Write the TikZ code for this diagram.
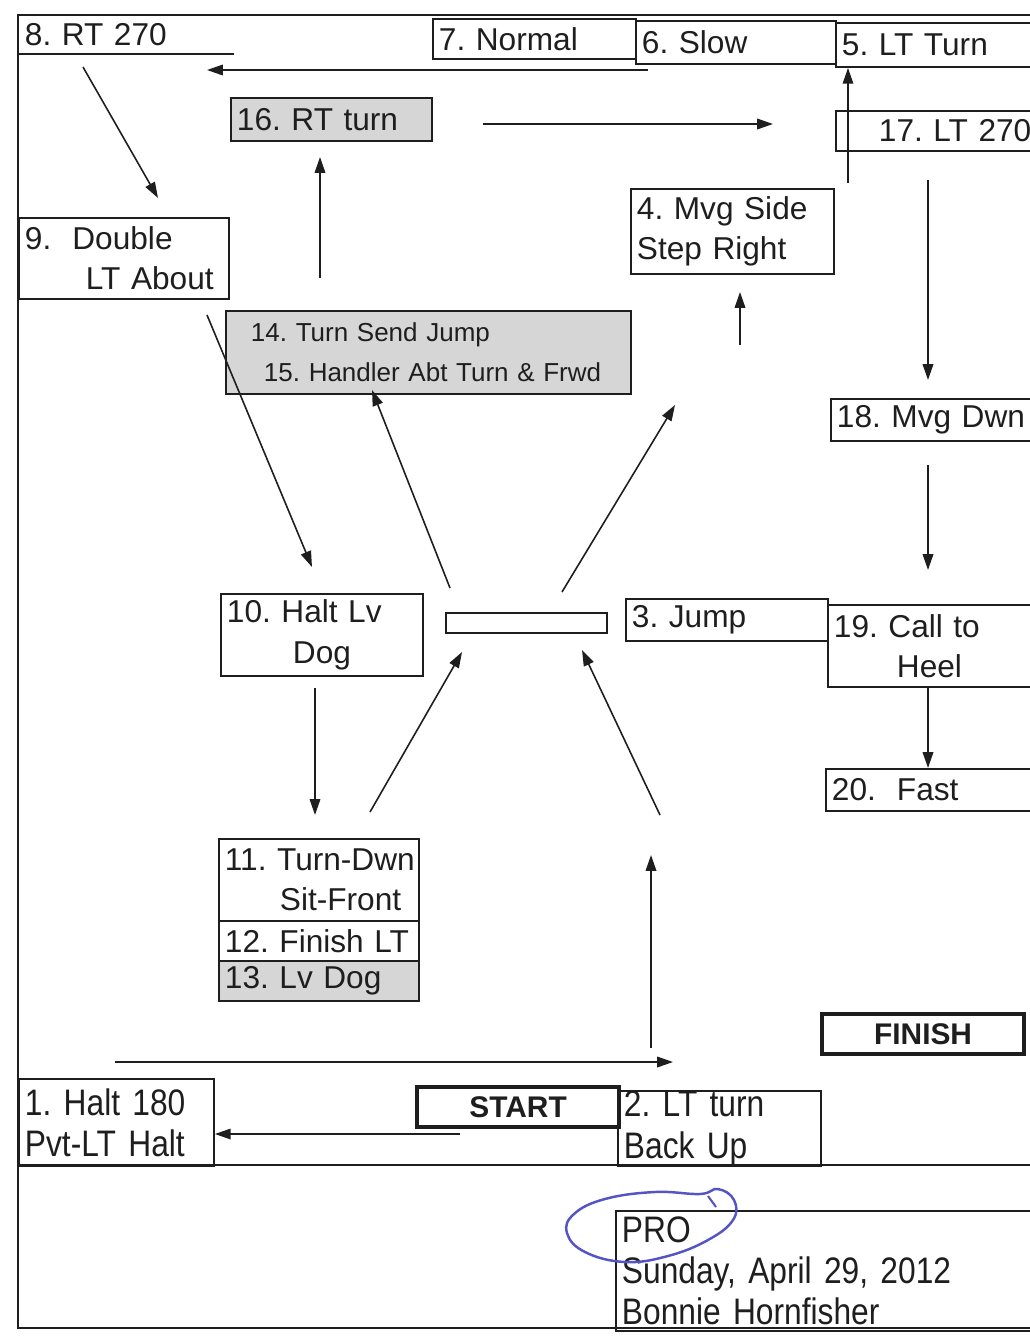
\documentclass[tikz,border=0pt]{standalone}
\usepackage{fontspec}
\setmainfont{Liberation Sans}
\newfontfamily\narrowfont[FakeStretch=0.86]{Liberation Sans}
\usetikzlibrary{arrows.meta}
\definecolor{cellgray}{RGB}{214,214,214}
\definecolor{penblue}{RGB}{84,84,196}
\definecolor{ink}{RGB}{30,30,30}

\begin{document}
\frenchspacing
\begin{tikzpicture}[
    x=0.02cm, y=-0.02cm, ink,
    cell/.style={draw, line width=1.1pt, anchor=north west, align=left, inner xsep=0.12cm, inner ysep=0pt,
      font=\fontsize{18}{23}\selectfont},
    shaded/.style={cell, fill=cellgray},
    heavy/.style={cell, line width=2.4pt, align=center, font=\fontsize{17}{20}\selectfont\bfseries},
    narrow/.style={cell, font=\fontsize{21}{23.5}\selectfont\narrowfont},
    arr/.style={-{Triangle[length=9pt,width=6pt]}, line width=0.9pt},
  ]
  \useasboundingbox (0,0) rectangle (1029,1336);
  % outer frame
  \draw[line width=1.1pt] (18,15) rectangle (1040,1328);
  \draw[line width=1.1pt] (18,1165) -- (1040,1165);

  % top row
  \node[cell, draw=none, text width=4.04cm, minimum height=0.74cm] (s8) at (18,15) {\mbox{8. RT 270}};
  \draw[line width=1.1pt] (s8.south west) -- (s8.south east);
  \node[cell, text width=3.82cm, minimum height=0.80cm] (s7) at (432,18) {7. Normal};
  \node[cell, text width=3.76cm, minimum height=0.86cm] (s6) at (635,20) {6. Slow};
  \node[cell, text width=3.86cm, minimum height=0.88cm] (s5) at (835,22) {5. LT Turn};

  \node[shaded, text width=3.78cm, minimum height=0.86cm] (s16) at (230,97) {16. RT turn};
  \node[cell, text width=3.86cm, minimum height=0.80cm] (s17) at (835,110) {\mbox{\hspace*{0.74cm}17. LT 270}};
  \node[cell, text width=3.82cm, minimum height=1.70cm] (s4) at (630,188) {\mbox{4. Mvg Side}\\\mbox{Step Right}};
  \node[cell, text width=3.96cm, minimum height=1.62cm] (s9) at (18,217) {9.\ \ Double\\\mbox{\hspace*{1.22cm}LT About}};
  \node[shaded, text width=7.86cm, minimum height=1.66cm, font=\fontsize{14.8}{23}\selectfont] (s14) at (225,310)
    {\mbox{\hspace*{0.38cm}14. Turn Send Jump}\\\mbox{\hspace*{0.64cm}15. Handler Abt Turn \& Frwd}};
  \node[cell, text width=3.96cm, minimum height=0.84cm] (s18) at (830,398) {\mbox{18. Mvg Dwn}};

  % middle
  \node[cell, text width=3.80cm, minimum height=1.64cm] (s10) at (220,593) {\mbox{10. Halt Lv}\\\hspace*{1.32cm}Dog};
  \node[cell, minimum width=3.22cm, minimum height=0.40cm] (bar) at (445,612) {};
  \node[cell, text width=3.80cm, minimum height=0.84cm] (s3) at (625,598) {3. Jump};
  \node[cell, text width=4.02cm, minimum height=1.64cm] (s19) at (827,604) {\mbox{19. Call to}\\\hspace*{1.26cm}Heel};
  \node[cell, text width=4.06cm, minimum height=0.84cm] (s20) at (825,768) {20.\ \ Fast};

  \node[cell, text width=3.76cm, minimum height=1.64cm] (s11) at (218,838) {\mbox{11. Turn-Dwn}\\\mbox{\hspace*{1.1cm}Sit-Front}};
  \node[cell, text width=3.76cm, minimum height=0.80cm] (s12) at (218,920) {\mbox{12. Finish LT}};
  \node[shaded, text width=3.76cm, minimum height=0.80cm] (s13) at (218,960) {13. Lv Dog};

  % bottom
  \node[heavy, minimum width=4.04cm, minimum height=0.80cm] (finish) at (820,1012) {FINISH};
  \node[narrow, text width=3.66cm, minimum height=1.74cm] (s1) at (18,1078) {\mbox{1. Halt 180}\\\mbox{Pvt-LT Halt}};
  \node[heavy, minimum width=4.04cm, minimum height=0.80cm] (start) at (415,1085) {START};
  \node[narrow, text width=3.82cm, minimum height=1.50cm] (s2) at (617,1090) {2. LT turn\\Back Up};
  \node[narrow, text width=8.26cm, minimum height=2.40cm] (pro) at (615,1210)
    {PRO\\Sunday, April 29, 2012\\Bonnie Hornfisher};

  % arrow ends
  \coordinate (p6) at (648,70);   \coordinate (p8) at (207,70);
  \coordinate (q8) at (83,67);    \coordinate (q9) at (158,198);
  \coordinate (p14) at (320,278); \coordinate (p16) at (320,157);
  \coordinate (q16) at (483,124); \coordinate (q17) at (773,124);
  \coordinate (p17) at (848,183);
  \coordinate (r17) at (928,180); \coordinate (p18) at (928,380);
  \coordinate (q14) at (740,345); \coordinate (p4) at (740,292);
  \coordinate (q18) at (928,465); \coordinate (q19) at (928,570);
  \coordinate (r9) at (207,315);  \coordinate (p10) at (312,567);
  \coordinate (pb) at (450,588);  \coordinate (r14) at (372,390);
  \coordinate (qb) at (562,592);  \coordinate (q4) at (675,405);
  \coordinate (q10) at (315,688); \coordinate (p11) at (315,815);
  \coordinate (q11) at (370,812); \coordinate (rb) at (462,652);
  \coordinate (p3) at (660,815);  \coordinate (sb) at (582,650);
  \coordinate (q2) at (651,1048); \coordinate (p2) at (651,855);
  \coordinate (q1) at (115,1062); \coordinate (r2) at (673,1062);
  \coordinate (qs) at (460,1134);

  \draw[arr] (p6) -- (p8);
  \draw[arr] (q8) -- (q9);
  \draw[arr] (p14) -- (p16);
  \draw[arr] (q16) -- (q17);
  \draw[arr] (p17) -- (p17 |- s5.south);
  \draw[arr] (r17) -- (p18);
  \draw[arr] (q14) -- (p4);
  \draw[arr] (q18) -- (q19);
  \draw[arr] (s19.south -| q19) -- (s20.north -| q19);
  \draw[arr] (r9) -- (p10);
  \draw[arr] (pb) -- (r14);
  \draw[arr] (qb) -- (q4);
  \draw[arr] (q10) -- (p11);
  \draw[arr] (q11) -- (rb);
  \draw[arr] (p3) -- (sb);
  \draw[arr] (q2) -- (p2);
  \draw[arr] (q1) -- (r2);
  \draw[arr] (qs) -- (qs -| s1.east);

  % pen circle round PRO
  \draw[penblue, line width=1.4pt] plot[smooth cycle, tension=0.7] coordinates
    {(700,1194) (655,1192) (605,1199) (574,1214) (567,1233) (585,1252) (625,1262) (668,1256) (708,1240) (733,1220) (734,1200) (718,1189)};
  \draw[penblue, line width=1.2pt] (708,1196) -- (716,1207);
\end{tikzpicture}
\end{document}
